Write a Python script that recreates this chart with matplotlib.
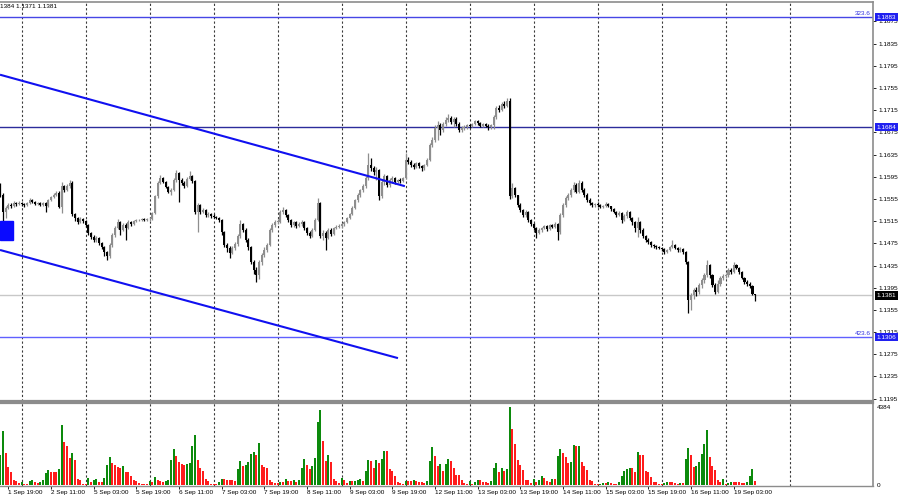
import numpy as np
import matplotlib
matplotlib.use("Agg")
import matplotlib.pyplot as plt
from matplotlib.patches import Rectangle
from matplotlib.transforms import blended_transform_factory

plt.rcParams['font.family'] = ['Liberation Sans', 'DejaVu Sans']

# EURUSD H1, 1 Sep 16:00 -> 19 Sep 11:00 (one row per trading day)
first_open = 1.1575
closes = [
    1.1562, 1.1532, 1.1539, 1.1544, 1.1542, 1.1548, 1.1546, 1.1548,
    1.1546, 1.1544, 1.1548, 1.1553, 1.1550, 1.1546, 1.1548, 1.1544, 1.1548, 1.1542, 1.1553, 1.1559, 1.1562, 1.1566, 1.1541, 1.1578, 1.1571, 1.1578, 1.1584, 1.1528, 1.1521, 1.1514, 1.1519, 1.1515,
    1.1508, 1.1494, 1.1486, 1.1481, 1.1485, 1.1476, 1.1468, 1.1459, 1.1452, 1.1472, 1.1490, 1.1503, 1.1514, 1.1499, 1.1508, 1.1503, 1.1514, 1.1510, 1.1515, 1.1517, 1.1517, 1.1519, 1.1517, 1.1519,
    1.1519, 1.1530, 1.1560, 1.1584, 1.1593, 1.1586, 1.1577, 1.1568, 1.1571, 1.1589, 1.1602, 1.1589, 1.1584, 1.1578, 1.1591, 1.1596, 1.1587, 1.1532, 1.1544, 1.1532, 1.1535, 1.1526, 1.1528, 1.1524,
    1.1523, 1.1521, 1.1517, 1.1495, 1.1472, 1.1467, 1.1458, 1.1467, 1.1474, 1.1488, 1.1510, 1.1499, 1.1481, 1.1468, 1.1441, 1.1427, 1.1418, 1.1441, 1.1454, 1.1463, 1.1472, 1.1499, 1.1508, 1.1514,
    1.1514, 1.1532, 1.1535, 1.1526, 1.1517, 1.1508, 1.1514, 1.1506, 1.1510, 1.1514, 1.1503, 1.1494, 1.1488, 1.1499, 1.1517, 1.1548, 1.1488, 1.1494, 1.1485, 1.1499, 1.1492, 1.1503, 1.1505, 1.1506,
    1.1510, 1.1514, 1.1521, 1.1528, 1.1539, 1.1553, 1.1562, 1.1571, 1.1578, 1.1593, 1.1616, 1.1611, 1.1604, 1.1607, 1.1560, 1.1586, 1.1596, 1.1580, 1.1589, 1.1593, 1.1586, 1.1589, 1.1587, 1.1593,
    1.1625, 1.1622, 1.1616, 1.1613, 1.1620, 1.1614, 1.1611, 1.1616, 1.1625, 1.1652, 1.1661, 1.1683, 1.1688, 1.1679, 1.1690, 1.1697, 1.1701, 1.1694, 1.1699, 1.1690, 1.1679, 1.1683, 1.1685, 1.1688,
    1.1687, 1.1690, 1.1696, 1.1692, 1.1687, 1.1690, 1.1687, 1.1685, 1.1688, 1.1703, 1.1719, 1.1715, 1.1726, 1.1723, 1.1732, 1.1560, 1.1575, 1.1562, 1.1544, 1.1535, 1.1526, 1.1532, 1.1517, 1.1510,
    1.1503, 1.1494, 1.1499, 1.1503, 1.1506, 1.1501, 1.1508, 1.1505, 1.1510, 1.1495, 1.1526, 1.1544, 1.1557, 1.1562, 1.1571, 1.1580, 1.1568, 1.1584, 1.1571, 1.1562, 1.1553, 1.1548, 1.1544, 1.1546,
    1.1544, 1.1541, 1.1542, 1.1546, 1.1542, 1.1537, 1.1532, 1.1526, 1.1530, 1.1517, 1.1524, 1.1532, 1.1521, 1.1514, 1.1503, 1.1514, 1.1499, 1.1488, 1.1481, 1.1477, 1.1472, 1.1470, 1.1468, 1.1467,
    1.1465, 1.1459, 1.1463, 1.1468, 1.1472, 1.1467, 1.1463, 1.1465, 1.1459, 1.1441, 1.1373, 1.1382, 1.1391, 1.1387, 1.1400, 1.1409, 1.1418, 1.1436, 1.1418, 1.1400, 1.1387, 1.1402, 1.1413, 1.1416,
    1.1418, 1.1427, 1.1423, 1.1436, 1.1431, 1.1423, 1.1413, 1.1405, 1.1402, 1.1398, 1.1384, 1.1381,
]
highs = [
    1.1584, 1.1565, 1.1542, 1.1547, 1.1548, 1.1551, 1.1550, 1.1551,
    1.1550, 1.1547, 1.1549, 1.1557, 1.1555, 1.1551, 1.1550, 1.1549, 1.1550, 1.1549, 1.1555, 1.1561, 1.1566, 1.1569, 1.1570, 1.1586, 1.1580, 1.1582, 1.1589, 1.1587, 1.1530, 1.1523, 1.1522, 1.1520,
    1.1517, 1.1510, 1.1496, 1.1490, 1.1488, 1.1487, 1.1478, 1.1470, 1.1462, 1.1475, 1.1494, 1.1506, 1.1518, 1.1516, 1.1511, 1.1512, 1.1517, 1.1516, 1.1517, 1.1519, 1.1519, 1.1521, 1.1520, 1.1521,
    1.1522, 1.1532, 1.1563, 1.1587, 1.1598, 1.1595, 1.1588, 1.1579, 1.1574, 1.1592, 1.1607, 1.1604, 1.1592, 1.1588, 1.1594, 1.1605, 1.1598, 1.1590, 1.1548, 1.1546, 1.1539, 1.1537, 1.1531, 1.1530,
    1.1527, 1.1525, 1.1523, 1.1519, 1.1497, 1.1476, 1.1470, 1.1470, 1.1477, 1.1491, 1.1517, 1.1512, 1.1502, 1.1485, 1.1470, 1.1445, 1.1432, 1.1445, 1.1458, 1.1468, 1.1476, 1.1502, 1.1512, 1.1517,
    1.1518, 1.1535, 1.1540, 1.1537, 1.1528, 1.1519, 1.1516, 1.1515, 1.1513, 1.1517, 1.1515, 1.1505, 1.1497, 1.1502, 1.1521, 1.1557, 1.1550, 1.1499, 1.1497, 1.1503, 1.1502, 1.1505, 1.1508, 1.1509,
    1.1512, 1.1516, 1.1523, 1.1530, 1.1542, 1.1555, 1.1565, 1.1573, 1.1582, 1.1596, 1.1638, 1.1628, 1.1614, 1.1613, 1.1609, 1.1590, 1.1600, 1.1598, 1.1592, 1.1596, 1.1595, 1.1591, 1.1592, 1.1595,
    1.1638, 1.1630, 1.1625, 1.1619, 1.1622, 1.1621, 1.1616, 1.1618, 1.1628, 1.1656, 1.1666, 1.1688, 1.1696, 1.1692, 1.1694, 1.1702, 1.1708, 1.1704, 1.1703, 1.1702, 1.1693, 1.1686, 1.1688, 1.1690,
    1.1691, 1.1692, 1.1698, 1.1698, 1.1694, 1.1692, 1.1692, 1.1690, 1.1690, 1.1706, 1.1722, 1.1724, 1.1729, 1.1731, 1.1737, 1.1737, 1.1584, 1.1577, 1.1563, 1.1548, 1.1537, 1.1535, 1.1533, 1.1519,
    1.1512, 1.1505, 1.1502, 1.1505, 1.1508, 1.1508, 1.1510, 1.1510, 1.1513, 1.1512, 1.1529, 1.1548, 1.1560, 1.1566, 1.1575, 1.1586, 1.1583, 1.1589, 1.1587, 1.1574, 1.1565, 1.1556, 1.1550, 1.1548,
    1.1549, 1.1546, 1.1544, 1.1550, 1.1548, 1.1543, 1.1539, 1.1533, 1.1533, 1.1531, 1.1527, 1.1535, 1.1534, 1.1523, 1.1516, 1.1522, 1.1515, 1.1502, 1.1490, 1.1484, 1.1479, 1.1474, 1.1472, 1.1470,
    1.1469, 1.1466, 1.1465, 1.1470, 1.1481, 1.1474, 1.1469, 1.1468, 1.1466, 1.1461, 1.1443, 1.1386, 1.1394, 1.1396, 1.1403, 1.1412, 1.1421, 1.1445, 1.1438, 1.1420, 1.1403, 1.1408, 1.1416, 1.1420,
    1.1422, 1.1430, 1.1430, 1.1442, 1.1438, 1.1433, 1.1425, 1.1415, 1.1408, 1.1405, 1.1400, 1.1384,
]
lows = [
    1.1559, 1.1497, 1.1521, 1.1536, 1.1538, 1.1540, 1.1543, 1.1544,
    1.1543, 1.1541, 1.1542, 1.1546, 1.1548, 1.1544, 1.1544, 1.1542, 1.1543, 1.1532, 1.1541, 1.1551, 1.1557, 1.1560, 1.1538, 1.1530, 1.1567, 1.1569, 1.1575, 1.1524, 1.1516, 1.1510, 1.1512, 1.1511,
    1.1505, 1.1490, 1.1482, 1.1477, 1.1478, 1.1472, 1.1464, 1.1453, 1.1445, 1.1449, 1.1468, 1.1487, 1.1500, 1.1490, 1.1497, 1.1481, 1.1501, 1.1507, 1.1508, 1.1513, 1.1515, 1.1515, 1.1515, 1.1516,
    1.1515, 1.1517, 1.1528, 1.1557, 1.1582, 1.1583, 1.1574, 1.1565, 1.1563, 1.1569, 1.1586, 1.1550, 1.1581, 1.1575, 1.1576, 1.1589, 1.1584, 1.1528, 1.1496, 1.1528, 1.1529, 1.1523, 1.1523, 1.1521,
    1.1520, 1.1519, 1.1514, 1.1490, 1.1468, 1.1459, 1.1449, 1.1455, 1.1463, 1.1470, 1.1485, 1.1495, 1.1477, 1.1463, 1.1437, 1.1420, 1.1405, 1.1410, 1.1436, 1.1450, 1.1459, 1.1470, 1.1496, 1.1504,
    1.1510, 1.1512, 1.1528, 1.1522, 1.1513, 1.1504, 1.1505, 1.1503, 1.1504, 1.1507, 1.1499, 1.1490, 1.1484, 1.1486, 1.1497, 1.1515, 1.1484, 1.1481, 1.1463, 1.1483, 1.1489, 1.1490, 1.1500, 1.1502,
    1.1503, 1.1506, 1.1512, 1.1519, 1.1526, 1.1537, 1.1550, 1.1559, 1.1568, 1.1575, 1.1590, 1.1606, 1.1598, 1.1590, 1.1553, 1.1557, 1.1581, 1.1576, 1.1577, 1.1584, 1.1582, 1.1583, 1.1584, 1.1585,
    1.1591, 1.1618, 1.1612, 1.1609, 1.1611, 1.1610, 1.1606, 1.1608, 1.1614, 1.1623, 1.1648, 1.1658, 1.1661, 1.1670, 1.1676, 1.1686, 1.1694, 1.1690, 1.1685, 1.1687, 1.1676, 1.1676, 1.1680, 1.1682,
    1.1683, 1.1684, 1.1688, 1.1689, 1.1684, 1.1685, 1.1684, 1.1679, 1.1682, 1.1681, 1.1700, 1.1711, 1.1713, 1.1719, 1.1721, 1.1555, 1.1556, 1.1558, 1.1540, 1.1531, 1.1522, 1.1523, 1.1514, 1.1506,
    1.1499, 1.1485, 1.1491, 1.1496, 1.1500, 1.1498, 1.1499, 1.1502, 1.1503, 1.1481, 1.1492, 1.1523, 1.1541, 1.1553, 1.1559, 1.1568, 1.1565, 1.1566, 1.1568, 1.1559, 1.1550, 1.1544, 1.1540, 1.1541,
    1.1541, 1.1538, 1.1539, 1.1540, 1.1540, 1.1534, 1.1529, 1.1522, 1.1524, 1.1512, 1.1515, 1.1521, 1.1517, 1.1508, 1.1495, 1.1486, 1.1494, 1.1484, 1.1477, 1.1473, 1.1468, 1.1466, 1.1465, 1.1464,
    1.1461, 1.1456, 1.1457, 1.1461, 1.1466, 1.1464, 1.1460, 1.1460, 1.1455, 1.1437, 1.1349, 1.1355, 1.1375, 1.1380, 1.1383, 1.1395, 1.1404, 1.1414, 1.1413, 1.1396, 1.1383, 1.1385, 1.1398, 1.1409,
    1.1412, 1.1415, 1.1420, 1.1421, 1.1428, 1.1420, 1.1410, 1.1402, 1.1398, 1.1394, 1.1381, 1.1371,
]
volumes = [
    1720, 3070, 1810, 1030, 730, 280, 260, 130,
    170, 90, 75, 260, 280, 170, 130, 190, 280, 690, 840, 750, 750, 750, 935, 3400, 2430, 2230, 1530, 1810, 1440, 370, 320, 75,
    75, 410, 190, 320, 355, 190, 190, 410, 1160, 1590, 1250, 1140, 1030, 950, 1100, 750, 750, 540, 320, 220, 130, 90, 90, 90,
    220, 170, 470, 320, 220, 190, 220, 320, 1440, 2060, 1660, 1310, 1220, 1160, 1200, 1250, 2190, 2840, 1400, 970, 820, 355, 220, 90,
    90, 90, 170, 370, 370, 320, 320, 320, 260, 920, 1350, 1070, 1160, 1310, 1760, 1850, 1680, 2370, 1160, 1030, 970, 280, 170, 130,
    130, 170, 170, 355, 260, 260, 320, 170, 280, 970, 1480, 1160, 935, 1070, 1530, 3550, 4240, 2470, 1380, 1680, 1310, 370, 220, 130,
    410, 320, 130, 260, 220, 260, 320, 355, 220, 790, 1400, 1350, 970, 1440, 1250, 1480, 1940, 1940, 935, 790, 500, 170, 130, 75,
    220, 220, 220, 280, 220, 190, 170, 130, 220, 1350, 2150, 1660, 1100, 1200, 790, 1200, 1500, 1380, 970, 600, 560, 320, 130, 75,
    220, 90, 190, 320, 320, 170, 170, 130, 220, 970, 1250, 750, 970, 790, 935, 4384, 3160, 2320, 1440, 1160, 840, 320, 320, 130,
    355, 190, 280, 500, 410, 220, 190, 370, 370, 1660, 2040, 1810, 1590, 1250, 1300, 2280, 2190, 2230, 1310, 1070, 880, 320, 220, 75,
    75, 90, 130, 130, 190, 130, 90, 75, 170, 540, 790, 935, 970, 970, 730, 1850, 1720, 1720, 820, 730, 470, 190, 170, 90,
    75, 130, 205, 170, 170, 130, 90, 130, 130, 1480, 2100, 1720, 1010, 1100, 1290, 1760, 2340, 3120, 1590, 1100, 840, 280, 190, 370,
    75, 130, 170, 170, 170, 170, 130, 130, 190, 500, 935, 220,
]

# bar index of each day's 00:00 (period separators)
day_starts = [8, 32, 56, 80, 104, 128, 152, 176, 200, 224, 248, 272, 296]
time_labels = ['1 Sep 19:00', '2 Sep 11:00', '5 Sep 03:00', '5 Sep 19:00', '6 Sep 11:00',
               '7 Sep 03:00', '7 Sep 19:00', '8 Sep 11:00', '9 Sep 03:00', '9 Sep 19:00',
               '12 Sep 11:00', '13 Sep 03:00', '13 Sep 19:00', '14 Sep 11:00', '15 Sep 03:00',
               '15 Sep 19:00', '16 Sep 11:00', '19 Sep 03:00']
time_label_bars = [3 + 16 * k for k in range(len(time_labels))]

# channel lines: (bar, price) endpoints
upper_channel = [(-0.1, 1.1779), (151.7, 1.1578)]
lower_channel = [(-0.1, 1.1463), (149.1, 1.1268)]

# horizontal levels: price, line colour, box colour, fibo text
levels = [
    (1.1883, '#4646e6', '#2020f0', '323.6'),
    (1.1684, '#2c2c9c', '#2020f0', None),
    (1.1381, '#c8c8c8', '#000000', None),
    (1.1306, '#6060ff', '#2020f0', '423.6'),
]
vol_max = 4384

closes = np.array(closes)
highs = np.array(highs)
lows = np.array(lows)
opens = np.r_[first_open, closes[:-1]]
volumes = np.array(volumes)
idx = np.arange(len(closes))

fig = plt.figure(figsize=(9, 5), dpi=100)
ax = fig.add_axes([0.0, 0.198, 0.97, 0.798])
vax = fig.add_axes([0.0, 0.028, 0.97, 0.166])

# candles
bull = closes >= opens
body = np.maximum(np.abs(closes - opens), 0.00004)
for mask, col in ((bull, '#8e8e8e'), (~bull, '#000000')):
    ax.vlines(idx[mask], lows[mask], highs[mask], color=col, lw=0.9, zorder=3)
    ax.bar(idx[mask], body[mask], bottom=np.minimum(opens, closes)[mask],
           width=0.8, color=col, linewidth=0, zorder=4)

# period separators
for d in day_starts:
    ax.axvline(d, color='#3a3a3a', lw=0.8, ls=(0, (2, 2)), zorder=1)
    vax.axvline(d, color='#3a3a3a', lw=0.8, ls=(0, (2, 2)), zorder=1)

# channel
for line in (upper_channel, lower_channel):
    xs, ys = zip(*line)
    ax.plot(xs, ys, color='#1010f0', lw=1.5, zorder=5, solid_capstyle='butt')

# blue marker box on the left edge
ax.add_patch(Rectangle((-0.1, 1.1481), 4.9, 0.0034, color='#0a0aff', zorder=6))

# horizontal levels and price boxes
trans = blended_transform_factory(ax.transAxes, ax.transData)
for price, lcol, bcol, fib in levels:
    ax.axhline(price, color=lcol, lw=1, zorder=2)
    ax.text(1.004, price, f'{price:.4f}', transform=trans, ha='left', va='center',
            fontsize=4.6, color='white', clip_on=False, zorder=10,
            bbox=dict(boxstyle='square,pad=0.25', fc=bcol, ec='none'))
    if fib:
        ax.text(0.997, price + 0.0002, fib, transform=trans, ha='right', va='bottom',
                fontsize=4.6, color='#3030e0')

ax.set_xlim(-0.11, 327.2)
ax.set_ylim(1.11907, 1.19101)
ax.yaxis.tick_right()
ax.set_yticks(np.arange(1.1195, 1.1880, 0.0040))
ax.yaxis.set_major_formatter(plt.FormatStrFormatter('%.4f'))
ax.tick_params(axis='y', direction='out', length=2, pad=2, labelsize=4.6, width=0.6)
ax.tick_params(axis='x', bottom=False, labelbottom=False)

fig.text(0.0, 0.986, '1384 1.1371 1.1381', fontsize=4.6, ha='left', va='center')

# volumes (MT4 colouring: green when volume rises)
vcol = ['#0c8a0c' if i == 0 or volumes[i] > volumes[i - 1] else '#ff1c1c' for i in idx]
vax.bar(idx, volumes, width=0.75, color=vcol, linewidth=0, zorder=3)
vax.set_xlim(-0.11, 327.2)
vax.set_ylim(-40, vol_max * 1.055)
vax.yaxis.tick_right()
vax.set_yticks([0, vol_max])
vax.set_yticklabels(['0', str(vol_max)])
vax.tick_params(axis='y', length=0, pad=3, labelsize=4.6)
vax.set_xticks(time_label_bars)
vax.set_xticklabels(time_labels, ha='left')
vax.tick_params(axis='x', direction='out', length=2, pad=1, labelsize=4.6, width=0.6)

for a in (ax, vax):
    a.set_facecolor('white')
    a.spines['left'].set_visible(False)
    for s in ('top', 'right', 'bottom'):
        a.spines[s].set_color('#8c8c8c')
    a.spines['right'].set_linewidth(1.2)
ax.spines['top'].set_linewidth(1.2)
ax.spines['bottom'].set_linewidth(1.6)
vax.spines['top'].set_linewidth(1.6)
vax.spines['bottom'].set_linewidth(1.0)

fig.savefig('out.png', dpi=100)
